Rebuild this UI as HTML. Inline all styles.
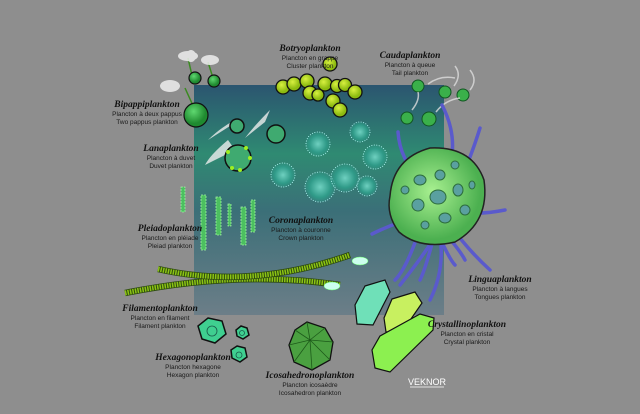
<!DOCTYPE html>
<html><head><meta charset="utf-8"><style>
html,body{margin:0;padding:0;background:#8e8e8e;}
svg{display:block}
.t{font-family:"Liberation Serif",serif;font-style:italic;font-weight:bold;font-size:9.5px;fill:#111;text-anchor:middle}
.s{font-family:"Liberation Sans",sans-serif;font-size:6.5px;fill:#1a1a1a;text-anchor:middle}
</style></head><body>
<svg width="640" height="414" viewBox="0 0 640 414" xmlns="http://www.w3.org/2000/svg">
<defs>
<linearGradient id="bg" x1="0" y1="0" x2="0" y2="1">
<stop offset="0" stop-color="#2b5570"/><stop offset="0.3" stop-color="#2f8a72"/><stop offset="0.55" stop-color="#3b6f78"/><stop offset="1" stop-color="#6c7e88"/></linearGradient>
<radialGradient id="gb" cx="0.4" cy="0.35"><stop offset="0" stop-color="#5fd870"/><stop offset="1" stop-color="#1f8a30"/></radialGradient>
<radialGradient id="yb" cx="0.4" cy="0.35"><stop offset="0" stop-color="#d8f040"/><stop offset="1" stop-color="#8cba10"/></radialGradient>
<radialGradient id="cb" cx="0.5" cy="0.5"><stop offset="0" stop-color="#6fd0c0"/><stop offset="0.7" stop-color="#2f9a88"/><stop offset="1" stop-color="#2f9a88" stop-opacity="0.3"/></radialGradient>
<radialGradient id="big" cx="0.45" cy="0.45"><stop offset="0" stop-color="#a8f090"/><stop offset="1" stop-color="#4cb050"/></radialGradient>
</defs>
<rect x="0" y="0" width="640" height="414" fill="#8e8e8e"/>
<rect x="194" y="85" width="250" height="230" fill="url(#bg)"/>

<!-- Botryo -->
<g fill="url(#yb)" stroke="#111" stroke-width="1.3">
<circle cx="330" cy="64" r="7"/><circle cx="283" cy="87" r="7"/><circle cx="294" cy="84" r="7"/><circle cx="307" cy="81" r="7"/><circle cx="325" cy="84" r="7"/><circle cx="337" cy="86" r="6.5"/><circle cx="345" cy="85" r="6.5"/><circle cx="355" cy="92" r="7"/><circle cx="310" cy="93" r="7"/><circle cx="318" cy="95" r="6"/><circle cx="333" cy="101" r="7"/><circle cx="340" cy="110" r="7"/>
</g>
<!-- Cauda -->
<g fill="#3ab04a" stroke="#115522" stroke-width="1">
<circle cx="418" cy="86" r="6"/><circle cx="445" cy="92" r="6"/><circle cx="463" cy="95" r="6"/><circle cx="407" cy="118" r="6"/><circle cx="429" cy="119" r="7"/></g>
<g fill="none" stroke="#ddd" stroke-width="1.5" opacity="0.8"><path d="M428 84 Q440 75 455 78"/><path d="M454 86 Q462 75 455 66"/><path d="M470 90 Q478 80 470 70"/><path d="M412 110 Q420 100 418 92"/><path d="M436 112 Q445 100 460 98"/></g>
<!-- Bipappi -->
<g stroke="#3a8a20" stroke-width="1.5"><line x1="193" y1="80" x2="188" y2="58"/><line x1="213" y1="78" x2="208" y2="62"/><line x1="195" y1="110" x2="185" y2="88"/></g>
<g fill="#eee" opacity="0.85"><ellipse cx="188" cy="56" rx="10" ry="5"/><ellipse cx="210" cy="60" rx="9" ry="5"/><ellipse cx="170" cy="86" rx="10" ry="6"/><ellipse cx="191" cy="56" rx="5" ry="6"/></g>
<g fill="url(#gb)" stroke="#111" stroke-width="1.2"><circle cx="195" cy="78" r="6"/><circle cx="214" cy="81" r="6"/><circle cx="196" cy="115" r="12"/></g>
<!-- Lana -->
<g fill="#eee" opacity="0.8"><path d="M235 120 Q220 128 208 140 L230 126Z"/><path d="M270 110 Q255 125 245 138 L265 122Z"/><path d="M228 140 Q210 155 205 165 L235 150Z"/></g>
<g fill="#3faa70" stroke="#111" stroke-width="1.5"><circle cx="237" cy="126" r="7"/><circle cx="276" cy="134" r="9"/><circle cx="238" cy="158" r="13"/></g>
<g fill="#9ef020"><circle cx="228" cy="152" r="2"/><circle cx="250" cy="158" r="2"/><circle cx="240" cy="170" r="2"/><circle cx="232" cy="168" r="2"/><circle cx="246" cy="148" r="2"/></g>
<!-- Corona -->
<g fill="url(#cb)" stroke="#bff" stroke-width="0.8" stroke-dasharray="1 1.5">
<circle cx="318" cy="144" r="12"/><circle cx="360" cy="132" r="10"/><circle cx="375" cy="157" r="12"/><circle cx="283" cy="175" r="12"/><circle cx="320" cy="187" r="15"/><circle cx="345" cy="178" r="14"/><circle cx="367" cy="186" r="10"/></g>
<!-- Lingua tentacles -->
<g fill="none" stroke="#5a5acc" stroke-width="3.5" stroke-linecap="round">
<path d="M398 132 Q400 160 420 178"/><path d="M442 105 Q455 130 452 155"/><path d="M480 128 Q470 160 460 180"/><path d="M462 212 Q480 215 505 210"/><path d="M372 234 Q390 225 420 215"/><path d="M450 225 Q468 250 490 270"/><path d="M438 225 Q460 250 465 260"/><path d="M433 240 Q420 260 400 285"/><path d="M433 240 Q425 270 420 280"/><path d="M440 238 Q450 260 455 265"/><path d="M440 235 Q445 270 430 300"/><path d="M416 240 Q405 270 395 280"/></g>
<path d="M390 196 Q393 158 430 148 Q472 146 484 180 Q490 222 455 242 Q420 250 399 232 Q386 215 390 196Z" fill="url(#big)" stroke="#222" stroke-width="1.5"/>
<g fill="#5aa0a0" stroke="#2d6d3d" stroke-width="1"><ellipse cx="420" cy="180" rx="6" ry="5"/><ellipse cx="440" cy="175" rx="5" ry="5"/><ellipse cx="438" cy="197" rx="8" ry="7"/><ellipse cx="458" cy="190" rx="5" ry="6"/><ellipse cx="418" cy="205" rx="6" ry="6"/><ellipse cx="445" cy="218" rx="6" ry="5"/><ellipse cx="465" cy="210" rx="5" ry="5"/><ellipse cx="425" cy="225" rx="4" ry="4"/><ellipse cx="455" cy="165" rx="4" ry="4"/><ellipse cx="405" cy="190" rx="4" ry="4"/><ellipse cx="472" cy="185" rx="3" ry="4"/></g>
<!-- Pleiado -->
<g fill="#4cc060" stroke="#9ef0a0" stroke-width="0.8" stroke-dasharray="2 1">
<rect x="181" y="187" width="4" height="25"/><rect x="201" y="195" width="5" height="55"/><rect x="216" y="197" width="5" height="38"/><rect x="228" y="204" width="3" height="22"/><rect x="241" y="207" width="5" height="38"/><rect x="251" y="200" width="4" height="32"/></g>
<!-- Filament -->
<path d="M125 293 Q240 270 340 285" fill="none" stroke="#2d4a10" stroke-width="6.5"/>
<path d="M125 293 Q240 270 340 285" fill="none" stroke="#8cc414" stroke-width="5" stroke-dasharray="1.5 1"/>
<path d="M158 269 Q250 290 350 255" fill="none" stroke="#2d4a10" stroke-width="6.5"/>
<path d="M158 269 Q250 290 350 255" fill="none" stroke="#8cc414" stroke-width="5" stroke-dasharray="1.5 1"/>
<g fill="#cfe" stroke="#6f6" stroke-width="0.5"><ellipse cx="360" cy="261" rx="8" ry="4"/><ellipse cx="332" cy="286" rx="8" ry="4"/></g>
<!-- Hexagon -->
<g stroke="#111" stroke-width="1.5" fill="#3fcf90"><polygon points="208,318 222,321 226,334 215,343 202,339 198,326"/><polygon points="241,326 247,328 249,335 243,339 237,336 236,330"/><polygon points="237,346 245,348 247,357 240,362 232,358 231,350"/></g>
<g fill="none" stroke="#1a5a4a" stroke-width="0.8"><circle cx="212" cy="331" r="5"/><circle cx="242" cy="333" r="2.5"/><circle cx="239" cy="355" r="3"/></g>
<!-- Icosahedron -->
<polygon points="307,322 325,328 333,342 330,360 312,370 294,362 289,345 295,330" fill="#4aa040" stroke="#111" stroke-width="1.3"/>
<g fill="none" stroke="#1d5a1a" stroke-width="0.8"><path d="M307,322 L310,340 L295,330 M310,340 L325,328 M310,340 L289,345 M310,340 L333,342 M310,340 L312,370 M310,340 L294,362 M310,340 L330,360"/></g>
<!-- Crystals -->
<g stroke="#111" stroke-width="1.2">
<polygon points="365,286 385,280 390,292 373,325 357,324 355,305" fill="#6fe0b8"/>
<polygon points="392,299 415,292 422,303 402,332 386,332 384,318" fill="#c8f060"/>
<polygon points="380,336 420,314 434,318 433,330 390,372 375,368 372,350" fill="#8cf050"/></g>
<!-- VEKNOR -->
<text x="427" y="385" font-family="Liberation Sans,sans-serif" font-size="9" fill="#fff" text-anchor="middle">VEKNOR</text>
<line x1="410" y1="387" x2="444" y2="387" stroke="#fff" stroke-width="0.8"/>
<!-- Labels -->
<text class="t" x="310" y="51">Botryoplankton</text><text class="s" x="310" y="60">Plancton en grappe</text><text class="s" x="310" y="68">Cluster plankton</text>
<text class="t" x="410" y="58">Caudaplankton</text><text class="s" x="410" y="67">Plancton à queue</text><text class="s" x="410" y="75">Tail plankton</text>
<text class="t" x="147" y="107">Bipappiplankton</text><text class="s" x="147" y="116">Plancton à deux pappus</text><text class="s" x="147" y="124">Two pappus plankton</text>
<text class="t" x="171" y="151">Lanaplankton</text><text class="s" x="171" y="160">Plancton à duvet</text><text class="s" x="171" y="168">Duvet plankton</text>
<text class="t" x="170" y="231">Pleiadoplankton</text><text class="s" x="170" y="240">Plancton en pléiade</text><text class="s" x="170" y="248">Pleiad plankton</text>
<text class="t" x="301" y="223">Coronaplankton</text><text class="s" x="301" y="232">Plancton à couronne</text><text class="s" x="301" y="240">Crown plankton</text>
<text class="t" x="500" y="282">Linguaplankton</text><text class="s" x="500" y="291">Plancton à langues</text><text class="s" x="500" y="299">Tongues plankton</text>
<text class="t" x="160" y="311">Filamentoplankton</text><text class="s" x="160" y="320">Plancton en filament</text><text class="s" x="160" y="328">Filament plankton</text>
<text class="t" x="193" y="360">Hexagonoplankton</text><text class="s" x="193" y="369">Plancton hexagone</text><text class="s" x="193" y="377">Hexagon plankton</text>
<text class="t" x="310" y="378">Icosahedronoplankton</text><text class="s" x="310" y="387">Plancton icosaèdre</text><text class="s" x="310" y="395">Icosahedron plankton</text>
<text class="t" x="467" y="327">Crystallinoplankton</text><text class="s" x="467" y="336">Plancton en cristal</text><text class="s" x="467" y="344">Crystal plankton</text>
</svg>
</body></html>
